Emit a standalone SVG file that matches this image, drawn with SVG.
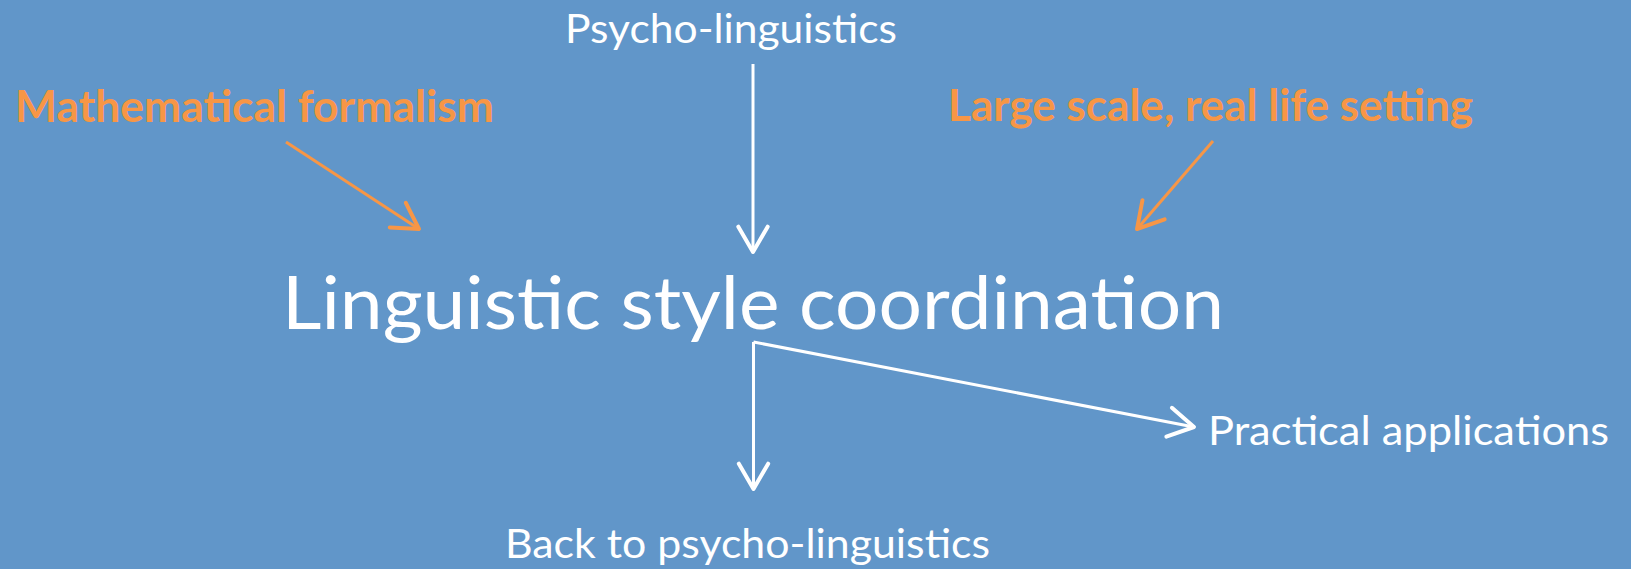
<svg xmlns="http://www.w3.org/2000/svg" width="1631" height="569" viewBox="0 0 1631 569">
  <style>
    .t { font-family: Lato, "Open Sans", "Liberation Sans", sans-serif; fill: #FFFFFF; }
    .o { font-family: Lato, "Open Sans", "Liberation Sans", sans-serif; fill: #F79646; font-weight: bold; }
    .w { stroke: #FFFFFF; stroke-width: 3; fill: none; }
    .a { stroke: #F79646; stroke-width: 3; fill: none; }
  </style>
  <defs>
    <marker id="hw" markerUnits="userSpaceOnUse" markerWidth="40" markerHeight="40" refX="0" refY="0" viewBox="-25 -15 30 30" orient="auto" overflow="visible">
      <path d="M -19 -11 L 0 0 L -19 11" fill="none" stroke="#FFFFFF" stroke-width="3" stroke-linecap="round" stroke-linejoin="round"/>
    </marker>
    <marker id="ho" markerUnits="userSpaceOnUse" markerWidth="40" markerHeight="40" refX="0" refY="0" viewBox="-25 -15 30 30" orient="auto" overflow="visible">
      <path d="M -19 -11 L 0 0 L -19 11" fill="none" stroke="#F79646" stroke-width="3" stroke-linecap="round" stroke-linejoin="round"/>
    </marker>
  </defs>
  <rect x="0" y="0" width="1631" height="569" fill="#6196C9"/>

  <g id="connectors">
    <line class="w" x1="753" y1="64" x2="753" y2="252" marker-end="url(#hw)"/>
    <line class="a" x1="286" y1="142" x2="419" y2="229" marker-end="url(#ho)"/>
    <line class="a" x1="1213" y1="141" x2="1137" y2="229" marker-end="url(#ho)"/>
    <line class="w" x1="753.5" y1="342" x2="753.5" y2="489" marker-end="url(#hw)"/>
    <line class="w" x1="753.5" y1="342" x2="1194" y2="427" marker-end="url(#hw)"/>
  </g>

  <g id="psycho">
    <text class="t" x="565" y="43" font-size="41" textLength="332" lengthAdjust="spacingAndGlyphs">Psycho-linguistics</text>
  </g>
  <g id="math">
    <text class="o" x="15" y="122" font-size="44" textLength="479" lengthAdjust="spacingAndGlyphs">Mathematical formalism</text>
  </g>
  <g id="large">
    <text class="o" x="948" y="121" font-size="44" textLength="525" lengthAdjust="spacingAndGlyphs">Large scale, real life setting</text>
  </g>
  <g id="lsc">
    <text class="t" x="282" y="329" font-size="74" textLength="942" lengthAdjust="spacingAndGlyphs">Linguistic style coordination</text>
  </g>
  <g id="practical">
    <text class="t" x="1208" y="445" font-size="41" textLength="401" lengthAdjust="spacingAndGlyphs">Practical applications</text>
  </g>
  <g id="back">
    <text class="t" x="505" y="558" font-size="41" textLength="485" lengthAdjust="spacingAndGlyphs">Back to psycho-linguistics</text>
  </g>
</svg>
